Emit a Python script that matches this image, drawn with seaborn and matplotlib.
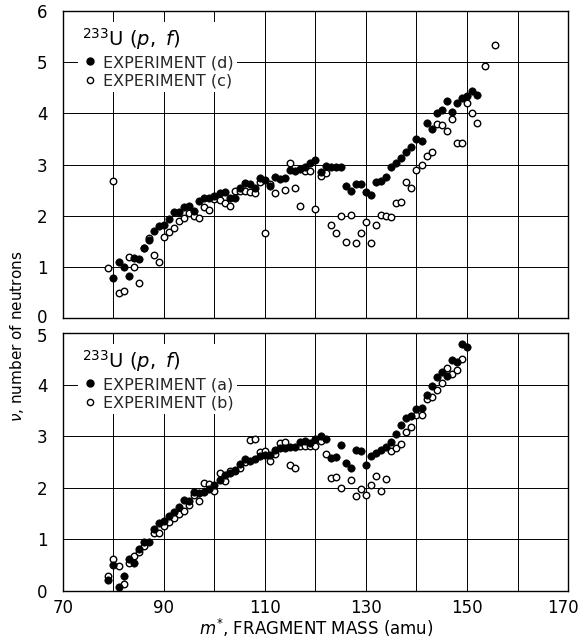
import matplotlib
matplotlib.use("Agg")
import matplotlib.pyplot as plt
import matplotlib.transforms as mtransforms
import seaborn as sns
import pandas as pd
from matplotlib.lines import Line2D

# ---------------- data ----------------
top_d_mass = [80, 81, 82, 83, 84, 85, 86, 87, 88, 89, 90, 91, 92, 93, 94, 95, 96, 97, 98, 99,
              100, 101, 102, 103, 104, 105, 106, 107, 108, 109, 110, 111, 112, 113, 114, 115,
              116, 117, 118, 119, 120, 121, 122, 123, 124, 125, 126, 127, 128, 129, 130, 131,
              132, 133, 134, 135, 136, 137, 138, 139, 140, 141, 142, 143, 144, 145, 146, 147,
              148, 149, 150, 151, 152]
top_d_nu = [0.78, 1.10, 1.00, 0.82, 1.18, 1.15, 1.36, 1.53, 1.70, 1.80, 1.82, 1.93, 2.07, 2.07,
            2.16, 2.18, 2.10, 2.29, 2.35, 2.35, 2.38, 2.44, 2.46, 2.35, 2.35, 2.54, 2.64, 2.62,
            2.54, 2.74, 2.70, 2.58, 2.76, 2.71, 2.74, 2.90, 2.88, 2.92, 2.95, 3.03, 3.08, 2.86,
            2.98, 2.95, 2.95, 2.95, 2.58, 2.48, 2.61, 2.61, 2.46, 2.40, 2.66, 2.68, 2.75, 2.95,
            3.03, 3.12, 3.24, 3.35, 3.50, 3.46, 3.81, 3.69, 4.00, 4.07, 4.25, 4.03, 4.20, 4.30,
            4.33, 4.44, 4.36]

top_c_mass = [79, 80, 81, 82, 83, 84, 85, 86, 87, 88, 89, 90, 91, 92, 93, 94, 95, 96, 97, 98,
              99, 100, 101, 102, 103, 104, 105, 106, 107, 108, 109, 110, 111, 112, 114, 115,
              116, 117, 118, 119, 120, 121, 122, 123, 124, 125, 126, 127, 128, 129, 130, 131,
              132, 133, 134, 135, 136, 137, 138, 139, 140, 141, 142, 143, 144, 145, 146, 147,
              148, 149, 150, 151, 152, 153.5, 155.5]
top_c_nu = [0.97, 2.68, 0.48, 0.52, 1.20, 0.99, 0.69, 1.37, 1.56, 1.23, 1.10, 1.58, 1.69, 1.75,
            1.90, 1.96, 2.05, 1.99, 1.95, 2.16, 2.12, 2.32, 2.31, 2.25, 2.18, 2.48, 2.48, 2.49,
            2.47, 2.44, 2.65, 1.67, 2.61, 2.44, 2.50, 3.03, 2.54, 2.18, 2.88, 2.88, 2.14, 2.77,
            2.84, 1.82, 1.67, 2.00, 1.49, 2.01, 1.46, 1.66, 1.88, 1.46, 1.82, 2.01, 2.00, 1.98,
            2.24, 2.26, 2.65, 2.54, 2.90, 3.00, 3.17, 3.25, 3.80, 3.78, 3.65, 3.88, 3.42, 3.42,
            4.20, 4.00, 3.82, 4.92, 5.33]

bot_a_mass = [79, 80, 81, 82, 83, 84, 85, 86, 87, 88, 89, 90, 91, 92, 93, 94, 95, 96, 97, 98,
              99, 100, 101, 102, 103, 104, 105, 106, 107, 108, 109, 110, 111, 112, 113, 114,
              115, 116, 117, 118, 119, 120, 121, 122, 123, 124, 125, 126, 127, 128, 129, 130,
              131, 132, 133, 134, 135, 136, 137, 138, 139, 140, 141, 142, 143, 144, 145, 146,
              147, 148, 149, 150]
bot_a_nu = [0.21, 0.51, 0.08, 0.29, 0.62, 0.55, 0.82, 0.95, 0.95, 1.21, 1.32, 1.36, 1.45, 1.53,
            1.62, 1.76, 1.74, 1.92, 1.89, 1.92, 1.97, 2.05, 2.15, 2.25, 2.28, 2.35, 2.47, 2.56,
            2.51, 2.56, 2.62, 2.64, 2.64, 2.74, 2.78, 2.78, 2.79, 2.79, 2.89, 2.90, 2.87, 2.94,
            3.00, 2.95, 2.58, 2.60, 2.83, 2.48, 2.39, 2.74, 2.72, 2.44, 2.61, 2.68, 2.73, 2.79,
            2.88, 3.05, 3.21, 3.35, 3.40, 3.52, 3.55, 3.79, 3.97, 4.15, 4.24, 4.16, 4.48, 4.43,
            4.79, 4.73]

bot_b_mass = [79, 80, 81, 82, 83, 84, 85, 86, 88, 89, 90, 91, 92, 93, 94, 95, 96, 97, 98, 99,
              100, 101, 102, 103, 104, 105, 106, 107, 108, 109, 110, 111, 112, 113, 114, 115,
              116, 117, 118, 119, 120, 121, 122, 123, 124, 125, 127, 128, 129, 130, 131, 132,
              133, 134, 135, 136, 137, 138, 139, 140, 141, 142, 143, 144, 145, 146, 147, 148,
              149]
bot_b_nu = [0.29, 0.62, 0.49, 0.14, 0.55, 0.67, 0.76, 0.87, 1.13, 1.13, 1.26, 1.33, 1.41, 1.49,
            1.56, 1.67, 1.86, 1.74, 2.09, 2.07, 1.94, 2.28, 2.13, 2.32, 2.32, 2.39, 2.50, 2.92,
            2.94, 2.69, 2.72, 2.51, 2.66, 2.86, 2.88, 2.45, 2.39, 2.81, 2.81, 2.81, 2.81, 2.90,
            2.66, 2.19, 2.21, 2.00, 2.16, 1.85, 1.97, 1.87, 2.06, 2.23, 1.94, 2.18, 2.71, 2.77,
            2.84, 3.08, 3.17, 3.42, 3.42, 3.72, 3.76, 3.89, 4.03, 4.32, 4.21, 4.28, 4.50]

x_ticks = [70, 80, 90, 100, 110, 120, 130, 140, 150, 160, 170]
x_ticklabels = ["70", "", "90", "", "110", "", "130", "", "150", "", "170"]
top_labels = ["EXPERIMENT (d)", "EXPERIMENT (c)"]
bot_labels = ["EXPERIMENT (a)", "EXPERIMENT (b)"]
panel_title = r"$^{233}$U $(p,\ f)$"

# ---------------- style ----------------
sns.set_theme(style="white")
plt.rcParams["font.family"] = ["DejaVu Sans"]
plt.rcParams["mathtext.fontset"] = "dejavusans"

W, H = 582, 643
fig = plt.figure(figsize=(W / 100, H / 100), dpi=100)
ax1 = fig.add_axes([63 / W, 1 - 318 / H, 505 / W, 307 / H])
ax2 = fig.add_axes([63 / W, 1 - 591 / H, 505 / W, 258 / H])


def draw(ax, filled_x, filled_y, open_x, open_y, ymax, labels, show_x):
    df_f = pd.DataFrame({"mass": filled_x, "nu": filled_y})
    df_o = pd.DataFrame({"mass": open_x, "nu": open_y})
    sns.scatterplot(data=df_o, x="mass", y="nu", ax=ax, marker="o", s=22,
                    color="white", edgecolor="black", linewidth=1.0, zorder=3)
    sns.scatterplot(data=df_f, x="mass", y="nu", ax=ax, marker="o", s=28,
                    color="black", edgecolor="black", linewidth=0.5, zorder=4)
    ax.set_xlim(70, 170)
    ax.set_ylim(0, ymax)
    ax.set_xticks(x_ticks)
    ax.set_yticks(list(range(0, ymax + 1)))
    if show_x:
        ax.set_xticklabels(x_ticklabels)
    else:
        ax.set_xticklabels([])
    ax.grid(True, color="black", linewidth=0.7)
    ax.set_axisbelow(True)
    ax.tick_params(length=0, labelsize=12, colors="black")
    ax.tick_params(axis="x", pad=6)
    ax.tick_params(axis="y", pad=11)
    for sp in ax.spines.values():
        sp.set_color("black")
        sp.set_linewidth(1.0)
    ax.set_xlabel("")
    ax.set_ylabel("")
    handles = [Line2D([], [], marker="o", ls="", color="black", markersize=5),
               Line2D([], [], marker="o", ls="", markerfacecolor="white",
                      markeredgecolor="black", markeredgewidth=1.0, markersize=4.5)]
    frac = 11 / (ax.get_position().height * H)
    leg = ax.legend(handles, labels, title=panel_title, loc="upper left",
                    bbox_to_anchor=(15 / 505, 1 - frac), frameon=True, fancybox=False,
                    edgecolor="none", facecolor="white", framealpha=1, fontsize=11.5,
                    title_fontsize=14, alignment="left", handlelength=1.0,
                    handletextpad=0.3, labelspacing=0.2, borderpad=0.25,
                    borderaxespad=0)
    leg.get_title().set_color("black")


draw(ax1, top_d_mass, top_d_nu, top_c_mass, top_c_nu, 6, top_labels, False)
draw(ax2, bot_a_mass, bot_a_nu, bot_b_mass, bot_b_nu, 5, bot_labels, True)


def nudge(label, dx, dy):
    label.set_transform(label.get_transform() +
                        mtransforms.ScaledTranslation(dx / 100, dy / 100, fig.dpi_scale_trans))


# keep the last x tick label inside the figure and separate the adjacent "0" / "5"
nudge(ax2.get_xticklabels()[-1], -5, 0)
nudge(ax1.get_yticklabels()[0], 0, 2)
nudge(ax2.get_yticklabels()[-1], 0, -2)

fig.text(316 / W, 1 - 628 / H, r"$m^{*}$, FRAGMENT MASS (amu)", ha="center", va="center",
         fontsize=12, color="black")
fig.text(17 / W, 1 - 336 / H, r"$\nu$, number of neutrons", rotation=90,
         ha="center", va="center", fontsize=11, color="black")

fig.savefig("out.png", dpi=100, facecolor="white")
